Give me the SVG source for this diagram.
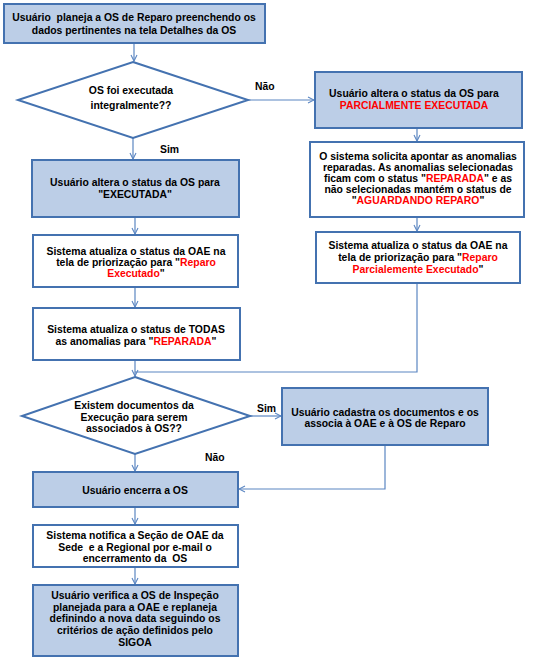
<svg xmlns="http://www.w3.org/2000/svg" width="540" height="665" viewBox="0 0 540 665">
<defs>
<style>
.t{font-family:"Liberation Sans",Arial,sans-serif;font-weight:bold;font-size:10.4px;fill:#000;text-anchor:middle;white-space:pre}
.r{fill:#FF0000}
.fb{fill:#BCCEE7;stroke:#4472B0;stroke-width:2}
.wb{fill:#FFFFFF;stroke:#4472B0;stroke-width:2}
.c{fill:none;stroke:#5B86C2;stroke-width:1.2}
.lb{font-family:"Liberation Sans",Arial,sans-serif;font-weight:bold;font-size:10.4px;fill:#000}
</style>
<marker id="ah" markerWidth="8" markerHeight="8" refX="7" refY="4" orient="auto" markerUnits="userSpaceOnUse">
<path d="M1,1 L7,4 L1,7" fill="none" stroke="#5B86C2" stroke-width="1.1"/>
</marker>
</defs>
<rect width="540" height="665" fill="#FFFFFF"/>
<g id="connectors">
<path class="c" d="M134,43 V61" marker-end="url(#ah)"/>
<path class="c" d="M248,100 H314" marker-end="url(#ah)"/>
<path class="c" d="M133,138 V159" marker-end="url(#ah)"/>
<path class="c" d="M417,128 V141" marker-end="url(#ah)"/>
<path class="c" d="M417,217 V231" marker-end="url(#ah)"/>
<path class="c" d="M417,283 V372 H135"/>
<path class="c" d="M135,217 V234" marker-end="url(#ah)"/>
<path class="c" d="M135,287 V307" marker-end="url(#ah)"/>
<path class="c" d="M135,360 V376" marker-end="url(#ah)"/>
<path class="c" d="M250,416 H281" marker-end="url(#ah)"/>
<path class="c" d="M385,445 V489 H239" marker-end="url(#ah)"/>
<path class="c" d="M135,454 V471" marker-end="url(#ah)"/>
<path class="c" d="M135,507 V524" marker-end="url(#ah)"/>
<path class="c" d="M135,567 V584" marker-end="url(#ah)"/>
<text class="lb" x="255" y="90">Não</text>
<text class="lb" x="160" y="153">Sim</text>
<text class="lb" x="257" y="412">Sim</text>
<text class="lb" x="205" y="461">Não</text>
</g>
<g id="n1">
<rect class="fb" x="4" y="4" width="261" height="39"/>
<text class="t" x="134" y="21" xml:space="preserve">Usuário  planeja a OS de Reparo preenchendo os</text>
<text class="t" x="134" y="34">dados pertinentes na tela Detalhes da OS</text>
</g>
<g id="d1">
<polygon class="wb" points="133,62 248,100 133,138 18,100"/>
<text class="t" x="131" y="94">OS foi executada</text>
<text class="t" x="131" y="109">integralmente??</text>
</g>
<g id="n2">
<rect class="fb" x="315" y="72" width="207" height="56"/>
<text class="t" x="414" y="97">Usuário altera o status da OS para</text>
<text class="t r" x="414" y="109">PARCIALMENTE EXECUTADA</text>
</g>
<g id="n3">
<rect class="wb" x="310" y="142" width="214" height="75"/>
<text class="t" x="418" y="160">O sistema solicita apontar as anomalias</text>
<text class="t" x="418" y="171">reparadas. As anomalias selecionadas</text>
<text class="t" x="418" y="182">ficam com o status "<tspan class="r">REPARADA</tspan>" e as</text>
<text class="t" x="418" y="193">não selecionadas mantém o status de</text>
<text class="t" x="418" y="204">"<tspan class="r">AGUARDANDO REPARO</tspan>"</text>
</g>
<g id="n4">
<rect class="wb" x="316" y="232" width="204" height="51"/>
<text class="t" x="418" y="249">Sistema atualiza o status da OAE na</text>
<text class="t" x="418" y="261">tela de priorização para "<tspan class="r">Reparo</tspan></text>
<text class="t" x="418" y="273"><tspan class="r">Parcialemente Executado</tspan>"</text>
</g>
<g id="n5">
<rect class="fb" x="32" y="160" width="207" height="57"/>
<text class="t" x="135" y="186">Usuário altera o status da OS para</text>
<text class="t" x="135" y="198">"EXECUTADA"</text>
</g>
<g id="n6">
<rect class="wb" x="33" y="235" width="205" height="52"/>
<text class="t" x="136" y="255">Sistema atualiza o status da OAE na</text>
<text class="t" x="136" y="266">tela de priorização para "<tspan class="r">Reparo</tspan></text>
<text class="t" x="136" y="277"><tspan class="r">Executado</tspan>"</text>
</g>
<g id="n7">
<rect class="wb" x="33" y="308" width="207" height="52"/>
<text class="t" x="136" y="333">Sistema atualiza o status de TODAS</text>
<text class="t" x="136" y="345">as anomalias para "<tspan class="r">REPARADA</tspan>"</text>
</g>
<g id="d2">
<polygon class="wb" points="135,377 250,416 135,454 22,416"/>
<text class="t" x="134" y="409">Existem documentos da</text>
<text class="t" x="134" y="421">Execução para serem</text>
<text class="t" x="134" y="432">associados à OS??</text>
</g>
<g id="n8">
<rect class="fb" x="282" y="388" width="206" height="57"/>
<text class="t" x="385" y="416">Usuário cadastra os documentos e os</text>
<text class="t" x="385" y="427">associa à OAE e à OS de Reparo</text>
</g>
<g id="n9">
<rect class="fb" x="33" y="472" width="205" height="35"/>
<text class="t" x="135" y="494">Usuário encerra a OS</text>
</g>
<g id="n10">
<rect class="wb" x="33" y="525" width="205" height="42"/>
<text class="t" x="135" y="539">Sistema notifica a Seção de OAE da</text>
<text class="t" x="135" y="551" xml:space="preserve">Sede  e a Regional por e-mail o</text>
<text class="t" x="135" y="562" xml:space="preserve">encerramento da  OS</text>
</g>
<g id="n11">
<rect class="fb" x="33" y="585" width="205" height="71"/>
<text class="t" x="135" y="599">Usuário verifica a OS de Inspeção</text>
<text class="t" x="135" y="611">planejada para a OAE e replaneja</text>
<text class="t" x="135" y="622">definindo a nova data seguindo os</text>
<text class="t" x="135" y="634">critérios de ação definidos pelo</text>
<text class="t" x="135" y="646">SIGOA</text>
</g>
</svg>
